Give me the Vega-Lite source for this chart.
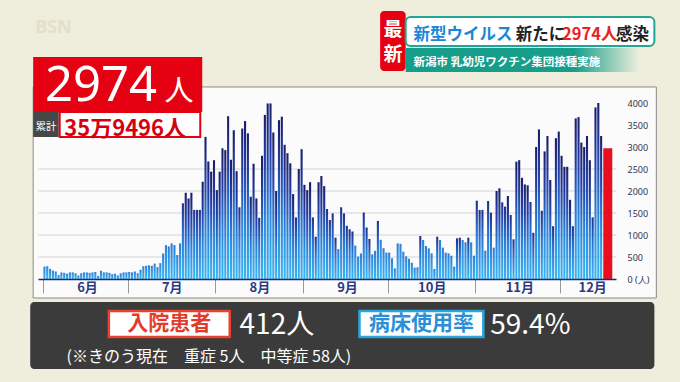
{
  "$schema": "https://vega.github.io/schema/vega-lite/v6.json",
  "width": 578,
  "height": 176,
  "autosize": "none",
  "padding": {"left": 38, "top": 103, "right": 64, "bottom": 103},
  "background": "#efeedc",
  "config": {"view": {"stroke": null}, "font": "Noto Sans CJK JP"},
  "datasets": {
    "one": [{}],
    "grid": [{"v": 500}, {"v": 1000}, {"v": 1500}, {"v": 2000}, {"v": 2500}],
    "latest": [{"date": "2022-12-16", "cases": 2974}],
    "daily": [
      {"date":"2022-06-01","cases":280},{"date":"2022-06-02","cases":290},{"date":"2022-06-03","cases":230},{"date":"2022-06-04","cases":190},{"date":"2022-06-05","cases":170},{"date":"2022-06-06","cases":90},{"date":"2022-06-07","cases":150},{"date":"2022-06-08","cases":140},{"date":"2022-06-09","cases":120},{"date":"2022-06-10","cases":150},{"date":"2022-06-11","cases":150},{"date":"2022-06-12","cases":130},{"date":"2022-06-13","cases":80},{"date":"2022-06-14","cases":130},{"date":"2022-06-15","cases":150},{"date":"2022-06-16","cases":150},{"date":"2022-06-17","cases":140},{"date":"2022-06-18","cases":150},{"date":"2022-06-19","cases":160},{"date":"2022-06-20","cases":70},{"date":"2022-06-21","cases":190},{"date":"2022-06-22","cases":150},{"date":"2022-06-23","cases":150},{"date":"2022-06-24","cases":140},{"date":"2022-06-25","cases":110},{"date":"2022-06-26","cases":120},{"date":"2022-06-27","cases":80},{"date":"2022-06-28","cases":130},{"date":"2022-06-29","cases":150},{"date":"2022-06-30","cases":150},
      {"date":"2022-07-01","cases":160},{"date":"2022-07-02","cases":150},{"date":"2022-07-03","cases":170},{"date":"2022-07-04","cases":130},{"date":"2022-07-05","cases":210},{"date":"2022-07-06","cases":290},{"date":"2022-07-07","cases":300},{"date":"2022-07-08","cases":310},{"date":"2022-07-09","cases":300},{"date":"2022-07-10","cases":350},{"date":"2022-07-11","cases":270},{"date":"2022-07-12","cases":360},{"date":"2022-07-13","cases":580},{"date":"2022-07-14","cases":770},{"date":"2022-07-15","cases":740},{"date":"2022-07-16","cases":810},{"date":"2022-07-17","cases":770},{"date":"2022-07-18","cases":545},{"date":"2022-07-19","cases":810},{"date":"2022-07-20","cases":1720},{"date":"2022-07-21","cases":1960},{"date":"2022-07-22","cases":1830},{"date":"2022-07-23","cases":1960},{"date":"2022-07-24","cases":1570},{"date":"2022-07-25","cases":1570},{"date":"2022-07-26","cases":1570},{"date":"2022-07-27","cases":2210},{"date":"2022-07-28","cases":3230},{"date":"2022-07-29","cases":2670},{"date":"2022-07-30","cases":2440},{"date":"2022-07-31","cases":2700},
      {"date":"2022-08-01","cases":2020},{"date":"2022-08-02","cases":2440},{"date":"2022-08-03","cases":2970},{"date":"2022-08-04","cases":2930},{"date":"2022-08-05","cases":3700},{"date":"2022-08-06","cases":2710},{"date":"2022-08-07","cases":3380},{"date":"2022-08-08","cases":2450},{"date":"2022-08-09","cases":1630},{"date":"2022-08-10","cases":3420},{"date":"2022-08-11","cases":3590},{"date":"2022-08-12","cases":3310},{"date":"2022-08-13","cases":1870},{"date":"2022-08-14","cases":2620},{"date":"2022-08-15","cases":1830},{"date":"2022-08-16","cases":1390},{"date":"2022-08-17","cases":2800},{"date":"2022-08-18","cases":3730},{"date":"2022-08-19","cases":3990},{"date":"2022-08-20","cases":3990},{"date":"2022-08-21","cases":3330},{"date":"2022-08-22","cases":2000},{"date":"2022-08-23","cases":3610},{"date":"2022-08-24","cases":3690},{"date":"2022-08-25","cases":3050},{"date":"2022-08-26","cases":2860},{"date":"2022-08-27","cases":2630},{"date":"2022-08-28","cases":1930},{"date":"2022-08-29","cases":1400},{"date":"2022-08-30","cases":2500},{"date":"2022-08-31","cases":2950},
      {"date":"2022-09-01","cases":2140},{"date":"2022-09-02","cases":2020},{"date":"2022-09-03","cases":2200},{"date":"2022-09-04","cases":1400},{"date":"2022-09-05","cases":960},{"date":"2022-09-06","cases":2200},{"date":"2022-09-07","cases":2340},{"date":"2022-09-08","cases":2110},{"date":"2022-09-09","cases":1590},{"date":"2022-09-10","cases":1340},{"date":"2022-09-11","cases":1490},{"date":"2022-09-12","cases":940},{"date":"2022-09-13","cases":680},{"date":"2022-09-14","cases":1630},{"date":"2022-09-15","cases":1490},{"date":"2022-09-16","cases":1210},{"date":"2022-09-17","cases":1130},{"date":"2022-09-18","cases":1080},{"date":"2022-09-19","cases":760},{"date":"2022-09-20","cases":510},{"date":"2022-09-21","cases":580},{"date":"2022-09-22","cases":1510},{"date":"2022-09-23","cases":1170},{"date":"2022-09-24","cases":910},{"date":"2022-09-25","cases":560},{"date":"2022-09-26","cases":640},{"date":"2022-09-27","cases":1320},{"date":"2022-09-28","cases":890},{"date":"2022-09-29","cases":700},{"date":"2022-09-30","cases":600},
      {"date":"2022-10-01","cases":600},{"date":"2022-10-02","cases":470},{"date":"2022-10-03","cases":240},{"date":"2022-10-04","cases":810},{"date":"2022-10-05","cases":800},{"date":"2022-10-06","cases":620},{"date":"2022-10-07","cases":515},{"date":"2022-10-08","cases":460},{"date":"2022-10-09","cases":370},{"date":"2022-10-10","cases":258},{"date":"2022-10-11","cases":265},{"date":"2022-10-12","cases":977},{"date":"2022-10-13","cases":886},{"date":"2022-10-14","cases":750},{"date":"2022-10-15","cases":697},{"date":"2022-10-16","cases":583},{"date":"2022-10-17","cases":227},{"date":"2022-10-18","cases":962},{"date":"2022-10-19","cases":886},{"date":"2022-10-20","cases":712},{"date":"2022-10-21","cases":598},{"date":"2022-10-22","cases":583},{"date":"2022-10-23","cases":530},{"date":"2022-10-24","cases":280},{"date":"2022-10-25","cases":924},{"date":"2022-10-26","cases":939},{"date":"2022-10-27","cases":886},{"date":"2022-10-28","cases":833},{"date":"2022-10-29","cases":939},{"date":"2022-10-30","cases":833},{"date":"2022-10-31","cases":530},
      {"date":"2022-11-01","cases":1780},{"date":"2022-11-02","cases":1570},{"date":"2022-11-03","cases":1570},{"date":"2022-11-04","cases":644},{"date":"2022-11-05","cases":1773},{"date":"2022-11-06","cases":1508},{"date":"2022-11-07","cases":712},{"date":"2022-11-08","cases":2000},{"date":"2022-11-09","cases":2060},{"date":"2022-11-10","cases":1742},{"date":"2022-11-11","cases":1644},{"date":"2022-11-12","cases":1886},{"date":"2022-11-13","cases":1455},{"date":"2022-11-14","cases":902},{"date":"2022-11-15","cases":2667},{"date":"2022-11-16","cases":2700},{"date":"2022-11-17","cases":2300},{"date":"2022-11-18","cases":2150},{"date":"2022-11-19","cases":2130},{"date":"2022-11-20","cases":1750},{"date":"2022-11-21","cases":1050},{"date":"2022-11-22","cases":3000},{"date":"2022-11-23","cases":3400},{"date":"2022-11-24","cases":1550},{"date":"2022-11-25","cases":2900},{"date":"2022-11-26","cases":3250},{"date":"2022-11-27","cases":2250},{"date":"2022-11-28","cases":1200},{"date":"2022-11-29","cases":3200},{"date":"2022-11-30","cases":3350},
      {"date":"2022-12-01","cases":2800},{"date":"2022-12-02","cases":2550},{"date":"2022-12-03","cases":2550},{"date":"2022-12-04","cases":1800},{"date":"2022-12-05","cases":1200},{"date":"2022-12-06","cases":3650},{"date":"2022-12-07","cases":3680},{"date":"2022-12-08","cases":3100},{"date":"2022-12-09","cases":3000},{"date":"2022-12-10","cases":3250},{"date":"2022-12-11","cases":2700},{"date":"2022-12-12","cases":1400},{"date":"2022-12-13","cases":3900},{"date":"2022-12-14","cases":4000},{"date":"2022-12-15","cases":3250}
    ]
  },
  "layer": [
    {
      "data": {"name": "one"},
      "mark": {"type": "rect", "fill": "#fbfbfc", "stroke": "#8a8a8a", "strokeWidth": 1},
      "encoding": {
        "x": {"datum": {"year": 2022, "month": 5, "date": 28, "hours": 12, "minutes": 31, "utc": true}, "type": "temporal"},
        "x2": {"datum": {"year": 2023, "month": 1, "date": 4, "hours": 1, "minutes": 2, "utc": true}},
        "y": {"datum": 4364, "type": "quantitative"},
        "y2": {"datum": -432}
      }
    },
    {
      "data": {"name": "grid"},
      "mark": {"type": "rule", "color": "#d4d4d4", "strokeWidth": 1},
      "encoding": {"y": {"field": "v", "type": "quantitative"}}
    },
    {
      "data": {"name": "daily"},
      "transform": [{"filter": "datum.cases < 900"}],
      "mark": {"type": "bar", "size": 2.1, "xOffset": 1.44,
        "color": {"gradient": "linear", "x1": 0, "y1": 0, "x2": 0, "y2": 1,
          "stops": [{"offset": 0, "color": "#2a7fda"}, {"offset": 1, "color": "#3bb6f3"}]}},
      "encoding": {
        "x": {"field": "date", "type": "temporal",
          "scale": {"type": "utc", "domain": [{"year": 2022, "month": 6, "date": 1, "utc": true}, {"year": 2022, "month": 12, "date": 19, "utc": true}]},
          "axis": {"title": null, "zindex": 1,
            "values": [{"year": 2022, "month": 6, "date": 1, "utc": true}, {"year": 2022, "month": 7, "date": 1, "utc": true}, {"year": 2022, "month": 8, "date": 1, "utc": true}, {"year": 2022, "month": 9, "date": 1, "utc": true}, {"year": 2022, "month": 10, "date": 1, "utc": true}, {"year": 2022, "month": 11, "date": 1, "utc": true}, {"year": 2022, "month": 12, "date": 1, "utc": true}],
            "labelExpr": "(utcmonth(datum.value) + 1) + '月'",
            "tickSize": 14, "tickColor": "#9a9a9a", "tickWidth": 1,
            "domainColor": "#1f2a6e", "domainWidth": 1.5,
            "labelFontSize": 13, "labelFontWeight": "bold", "labelColor": "#2b3a80",
            "labelAlign": "center", "labelBaseline": "middle", "labelPadding": -6,
            "labelOffset": {"condition": {"test": "utcmonth(datum.value) == 11", "value": 32}, "value": 44},
            "labelFlush": false, "labelOverlap": false, "labelBound": false, "grid": false}},
        "y": {"field": "cases", "type": "quantitative",
          "scale": {"domain": [0, 4000], "nice": false},
          "axis": {"orient": "right", "title": null, "zindex": 1,
            "values": [0, 500, 1000, 1500, 2000, 2500, 3000, 3500, 4000],
            "tickCount": 9,
            "labelExpr": "datum.value == 0 ? '0 (人)' : format(datum.value, 'd')",
            "labelAlign": "left", "labelBaseline": "middle", "labelPadding": 11,
            "labelFontSize": 9, "labelColor": "#30344f", "labelFont": "Noto Sans",
            "labelOverlap": false, "labelFlush": false, "labelBound": false,
            "domain": false, "ticks": false, "grid": false}}
      }
    },
    {
      "data": {"name": "daily"},
      "transform": [{"filter": "datum.cases >= 900 && datum.cases < 1800"}],
      "mark": {"type": "bar", "size": 2.1, "xOffset": 1.44,
        "color": {"gradient": "linear", "x1": 0, "y1": 0, "x2": 0, "y2": 1,
          "stops": [{"offset": 0, "color": "#1f2f8e"}, {"offset": 0.45, "color": "#2a78d6"}, {"offset": 1, "color": "#3bb6f3"}]}},
      "encoding": {
        "x": {"field": "date", "type": "temporal"},
        "y": {"field": "cases", "type": "quantitative"}
      }
    },
    {
      "data": {"name": "daily"},
      "transform": [{"filter": "datum.cases >= 1800"}],
      "mark": {"type": "bar", "size": 2.1, "xOffset": 1.44,
        "color": {"gradient": "linear", "x1": 0, "y1": 0, "x2": 0, "y2": 1,
          "stops": [{"offset": 0, "color": "#1a1d69"}, {"offset": 0.3, "color": "#2340a8"}, {"offset": 0.65, "color": "#2b88de"}, {"offset": 1, "color": "#3bb6f3"}]}},
      "encoding": {
        "x": {"field": "date", "type": "temporal"},
        "y": {"field": "cases", "type": "quantitative"}
      }
    },
    {
      "data": {"name": "latest"},
      "mark": {"type": "bar", "size": 9, "xOffset": 5.25, "color": "#e8101f"},
      "encoding": {
        "x": {"field": "date", "type": "temporal"},
        "y": {"field": "cases", "type": "quantitative"}
      }
    },
    {
      "data": {"name": "one"},
      "mark": {"type": "text", "text": "BSN", "fontSize": 18, "fontWeight": "bold", "color": "#e2e0cb", "align": "left", "baseline": "alphabetic", "font": "Noto Sans"},
      "encoding": {
        "x": {"datum": {"year": 2022, "month": 5, "date": 29, "hours": 5, "minutes": 12, "utc": true}, "type": "temporal"},
        "y": {"datum": 5591, "type": "quantitative"}
      }
    },
    {
      "data": {"name": "one"},
      "mark": {"type": "rect", "fill": "#e50012"},
      "encoding": {
        "x": {"datum": {"year": 2022, "month": 5, "date": 28, "hours": 12, "minutes": 31, "utc": true}, "type": "temporal"},
        "x2": {"datum": {"year": 2022, "month": 7, "date": 27, "hours": 8, "minutes": 21, "utc": true}},
        "y": {"datum": 5045, "type": "quantitative"},
        "y2": {"datum": 3795}
      }
    },
    {
      "data": {"name": "one"},
      "mark": {"type": "text", "text": "2974", "fontSize": 49, "color": "#ffffff", "align": "left", "baseline": "alphabetic", "font": "Noto Sans"},
      "encoding": {
        "x": {"datum": {"year": 2022, "month": 6, "date": 1, "hours": 16, "minutes": 42, "utc": true}, "type": "temporal"},
        "y": {"datum": 4045, "type": "quantitative"}
      }
    },
    {
      "data": {"name": "one"},
      "mark": {"type": "text", "text": "人", "fontSize": 29, "color": "#ffffff", "align": "left", "baseline": "alphabetic"},
      "encoding": {
        "x": {"datum": {"year": 2022, "month": 7, "date": 14, "hours": 0, "minutes": 0, "utc": true}, "type": "temporal"},
        "y": {"datum": 4045, "type": "quantitative"}
      }
    },
    {
      "data": {"name": "one"},
      "mark": {"type": "rect", "fill": "#474747"},
      "encoding": {
        "x": {"datum": {"year": 2022, "month": 5, "date": 28, "hours": 12, "minutes": 31, "utc": true}, "type": "temporal"},
        "x2": {"datum": {"year": 2022, "month": 6, "date": 6, "hours": 13, "minutes": 34, "utc": true}},
        "y": {"datum": 3795, "type": "quantitative"},
        "y2": {"datum": 3227}
      }
    },
    {
      "data": {"name": "one"},
      "mark": {"type": "text", "text": "累計", "fontSize": 10.5, "color": "#ffffff", "align": "center", "baseline": "middle"},
      "encoding": {
        "x": {"datum": {"year": 2022, "month": 6, "date": 2, "hours": 1, "minutes": 2, "utc": true}, "type": "temporal"},
        "y": {"datum": 3455, "type": "quantitative"}
      }
    },
    {
      "data": {"name": "one"},
      "mark": {"type": "rect", "fill": "#ffffff", "stroke": "#e50012", "strokeWidth": 2},
      "encoding": {
        "x": {"datum": {"year": 2022, "month": 6, "date": 6, "hours": 21, "minutes": 55, "utc": true}, "type": "temporal"},
        "x2": {"datum": {"year": 2022, "month": 7, "date": 26, "hours": 15, "minutes": 39, "utc": true}},
        "y": {"datum": 3795, "type": "quantitative"},
        "y2": {"datum": 3227}
      }
    },
    {
      "data": {"name": "one"},
      "mark": {"type": "text", "text": "35万9496人", "fontSize": 22, "fontWeight": "bold", "color": "#d7000f", "align": "left", "baseline": "alphabetic"},
      "encoding": {
        "x": {"datum": {"year": 2022, "month": 6, "date": 8, "hours": 12, "minutes": 0, "utc": true}, "type": "temporal"},
        "y": {"datum": 3250, "type": "quantitative"}
      }
    },
    {
      "data": {"name": "one"},
      "mark": {"type": "rect", "fill": "#e50012", "cornerRadius": 4},
      "encoding": {
        "x": {"datum": {"year": 2022, "month": 9, "date": 28, "hours": 7, "minutes": 18, "utc": true}, "type": "temporal"},
        "x2": {"datum": {"year": 2022, "month": 10, "date": 7, "hours": 8, "minutes": 21, "utc": true}},
        "y": {"datum": 6091, "type": "quantitative"},
        "y2": {"datum": 4727}
      }
    },
    {
      "data": {"name": "one"},
      "mark": {"type": "text", "text": "最", "fontSize": 19, "fontWeight": "bold", "color": "#ffffff", "align": "center", "baseline": "middle"},
      "encoding": {
        "x": {"datum": {"year": 2022, "month": 10, "date": 2, "hours": 19, "minutes": 49, "utc": true}, "type": "temporal"},
        "y": {"datum": 5659, "type": "quantitative"}
      }
    },
    {
      "data": {"name": "one"},
      "mark": {"type": "text", "text": "新", "fontSize": 19, "fontWeight": "bold", "color": "#ffffff", "align": "center", "baseline": "middle"},
      "encoding": {
        "x": {"datum": {"year": 2022, "month": 10, "date": 2, "hours": 19, "minutes": 49, "utc": true}, "type": "temporal"},
        "y": {"datum": 5091, "type": "quantitative"}
      }
    },
    {
      "data": {"name": "one"},
      "mark": {"type": "rect", "fill": "#ffffff", "stroke": "#22a593", "strokeWidth": 2, "cornerRadius": 5},
      "encoding": {
        "x": {"datum": {"year": 2022, "month": 10, "date": 7, "hours": 8, "minutes": 21, "utc": true}, "type": "temporal"},
        "x2": {"datum": {"year": 2023, "month": 1, "date": 3, "hours": 8, "minutes": 21, "utc": true}},
        "y": {"datum": 5955, "type": "quantitative"},
        "y2": {"datum": 5295}
      }
    },
    {
      "data": {"name": "one"},
      "mark": {"type": "text", "text": "新型ウイルス", "fontSize": 16.5, "fontWeight": "bold", "color": "#1d86d6", "align": "left", "baseline": "alphabetic"},
      "encoding": {
        "x": {"datum": {"year": 2022, "month": 10, "date": 10, "hours": 3, "minutes": 7, "utc": true}, "type": "temporal"},
        "y": {"datum": 5432, "type": "quantitative"}
      }
    },
    {
      "data": {"name": "one"},
      "mark": {"type": "text", "text": "新たに", "fontSize": 16.5, "fontWeight": "bold", "color": "#222222", "align": "left", "baseline": "alphabetic"},
      "encoding": {
        "x": {"datum": {"year": 2022, "month": 11, "date": 15, "hours": 7, "minutes": 18, "utc": true}, "type": "temporal"},
        "y": {"datum": 5432, "type": "quantitative"}
      }
    },
    {
      "data": {"name": "one"},
      "mark": {"type": "text", "text": "2974人", "fontSize": 16.5, "fontWeight": "bold", "color": "#e8231f", "align": "left", "baseline": "alphabetic"},
      "encoding": {
        "x": {"datum": {"year": 2022, "month": 12, "date": 1, "hours": 15, "minutes": 39, "utc": true}, "type": "temporal"},
        "y": {"datum": 5432, "type": "quantitative"}
      }
    },
    {
      "data": {"name": "one"},
      "mark": {"type": "text", "text": "感染", "fontSize": 16.5, "fontWeight": "bold", "color": "#222222", "align": "left", "baseline": "alphabetic"},
      "encoding": {
        "x": {"datum": {"year": 2022, "month": 12, "date": 20, "hours": 18, "minutes": 47, "utc": true}, "type": "temporal"},
        "y": {"datum": 5432, "type": "quantitative"}
      }
    },
    {
      "data": {"name": "one"},
      "mark": {"type": "rect",
        "fill": {"gradient": "linear", "x1": 0, "y1": 0, "x2": 1, "y2": 0,
          "stops": [{"offset": 0, "color": "#169e8b"}, {"offset": 0.72, "color": "#169e8b"}, {"offset": 1, "color": "rgba(22,158,139,0)"}]}},
      "encoding": {
        "x": {"datum": {"year": 2022, "month": 10, "date": 7, "hours": 8, "minutes": 21, "utc": true}, "type": "temporal"},
        "x2": {"datum": {"year": 2022, "month": 12, "date": 29, "hours": 3, "minutes": 7, "utc": true}},
        "y": {"datum": 5250, "type": "quantitative"},
        "y2": {"datum": 4705}
      }
    },
    {
      "data": {"name": "one"},
      "mark": {"type": "text", "text": "新潟市 乳幼児ワクチン集団接種実施", "fontSize": 11.5, "fontWeight": "bold", "color": "#ffffff", "align": "left", "baseline": "alphabetic"},
      "encoding": {
        "x": {"datum": {"year": 2022, "month": 10, "date": 10, "hours": 3, "minutes": 7, "utc": true}, "type": "temporal"},
        "y": {"datum": 4841, "type": "quantitative"}
      }
    },
    {
      "data": {"name": "one"},
      "mark": {"type": "rect", "fill": "#3b3b3b", "cornerRadius": 4},
      "encoding": {
        "x": {"datum": {"year": 2022, "month": 5, "date": 27, "hours": 11, "minutes": 29, "utc": true}, "type": "temporal"},
        "x2": {"datum": {"year": 2023, "month": 1, "date": 3, "hours": 8, "minutes": 21, "utc": true}},
        "y": {"datum": -523, "type": "quantitative"},
        "y2": {"datum": -2045}
      }
    },
    {
      "data": {"name": "one"},
      "mark": {"type": "rect", "fill": "#ffffff", "stroke": "#e8412f", "strokeWidth": 2.5},
      "encoding": {
        "x": {"datum": {"year": 2022, "month": 6, "date": 24, "hours": 7, "minutes": 18, "utc": true}, "type": "temporal"},
        "x2": {"datum": {"year": 2022, "month": 8, "date": 6, "hours": 2, "minutes": 5, "utc": true}},
        "y": {"datum": -727, "type": "quantitative"},
        "y2": {"datum": -1318}
      }
    },
    {
      "data": {"name": "one"},
      "mark": {"type": "text", "text": "入院患者", "fontSize": 21, "fontWeight": "bold", "color": "#e23b2c", "align": "center", "baseline": "middle"},
      "encoding": {
        "x": {"datum": {"year": 2022, "month": 7, "date": 15, "hours": 16, "minutes": 42, "utc": true}, "type": "temporal"},
        "y": {"datum": -1023, "type": "quantitative"}
      }
    },
    {
      "data": {"name": "one"},
      "mark": {"type": "text", "text": "412人", "fontSize": 28, "color": "#ffffff", "align": "left", "baseline": "alphabetic"},
      "encoding": {
        "x": {"datum": {"year": 2022, "month": 8, "date": 9, "hours": 13, "minutes": 34, "utc": true}, "type": "temporal"},
        "y": {"datum": -1250, "type": "quantitative"}
      }
    },
    {
      "data": {"name": "one"},
      "mark": {"type": "rect", "fill": "#ffffff", "stroke": "#2aa3dc", "strokeWidth": 2.5},
      "encoding": {
        "x": {"datum": {"year": 2022, "month": 9, "date": 21, "hours": 0, "minutes": 0, "utc": true}, "type": "temporal"},
        "x2": {"datum": {"year": 2022, "month": 11, "date": 3, "hours": 19, "minutes": 49, "utc": true}},
        "y": {"datum": -727, "type": "quantitative"},
        "y2": {"datum": -1318}
      }
    },
    {
      "data": {"name": "one"},
      "mark": {"type": "text", "text": "病床使用率", "fontSize": 21, "fontWeight": "bold", "color": "#2a8fd6", "align": "center", "baseline": "middle"},
      "encoding": {
        "x": {"datum": {"year": 2022, "month": 10, "date": 12, "hours": 21, "minutes": 55, "utc": true}, "type": "temporal"},
        "y": {"datum": -1023, "type": "quantitative"}
      }
    },
    {
      "data": {"name": "one"},
      "mark": {"type": "text", "text": "59.4%", "fontSize": 28, "color": "#ffffff", "align": "left", "baseline": "alphabetic"},
      "encoding": {
        "x": {"datum": {"year": 2022, "month": 11, "date": 6, "hours": 6, "minutes": 16, "utc": true}, "type": "temporal"},
        "y": {"datum": -1250, "type": "quantitative"}
      }
    },
    {
      "data": {"name": "one"},
      "mark": {"type": "text", "text": "(※きのう現在　重症 5人　中等症 58人)", "fontSize": 16, "color": "#ffffff", "align": "left", "baseline": "alphabetic"},
      "encoding": {
        "x": {"datum": {"year": 2022, "month": 6, "date": 9, "hours": 8, "minutes": 21, "utc": true}, "type": "temporal"},
        "y": {"datum": -1886, "type": "quantitative"}
      }
    }
  ]
}
